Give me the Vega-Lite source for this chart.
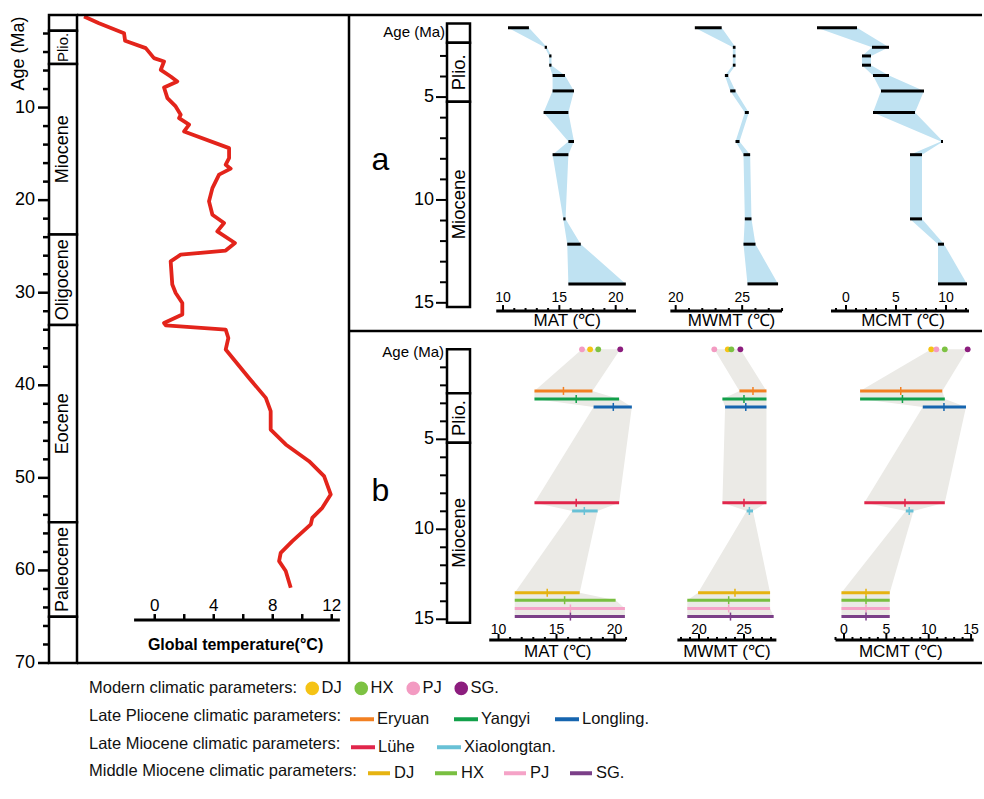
{
"$schema": "https://vega.github.io/schema/vega-lite/v6.json",
"background": "white",
"padding": {"left": 10, "top": 13, "right": 0, "bottom": 0},
"autosize": {"type": "pad"},
"spacing": 0,
"bounds": "flush",
"columns": 7,
"datasets": {
"temp": [
{"age":0.16,"t":-4.79},{"age":0.88,"t":-3.78},{"age":1.96,"t":-2.08},{"age":2.79,"t":-2.01},{"age":3.58,"t":-0.61},{"age":4.66,"t":-0.05},{"age":5.02,"t":0.63},{"age":5.92,"t":0.41},{"age":6.64,"t":1.08},{"age":7.18,"t":1.53},{"age":7.83,"t":0.63},{"age":8.98,"t":0.86},{"age":9.88,"t":1.42},{"age":10.77,"t":1.76},{"age":11.14,"t":1.65},{"age":11.85,"t":2.33},{"age":12.58,"t":1.99},{"age":14.38,"t":5.04},{"age":15.46,"t":5.04},{"age":16.17,"t":4.81},{"age":16.6,"t":5.15},{"age":17.25,"t":4.36},{"age":18.7,"t":3.91},{"age":20.13,"t":3.68},{"age":21.57,"t":3.91},{"age":22.47,"t":4.7},{"age":23.37,"t":4.24},{"age":24.63,"t":5.44},{"age":25.45,"t":4.81},{"age":25.89,"t":1.76},{"age":26.61,"t":1.08},{"age":29.12,"t":1.19},{"age":30.03,"t":1.42},{"age":31.11,"t":1.87},{"age":32.36,"t":1.87},{"age":33.27,"t":0.63},{"age":33.52,"t":0.75},{"age":33.98,"t":4.81},{"age":34.89,"t":4.99},{"age":36.14,"t":4.81},{"age":39.21,"t":6.39},{"age":41.36,"t":7.53},{"age":42.8,"t":7.86},{"age":44.78,"t":7.86},{"age":46.39,"t":8.88},{"age":48.2,"t":10.46},{"age":49.82,"t":11.48},{"age":51.79,"t":11.93},{"age":53.24,"t":11.36},{"age":54.32,"t":10.68},{"age":55.03,"t":10.58},{"age":56.83,"t":9.33},{"age":58.1,"t":8.54},{"age":58.99,"t":8.43},{"age":60.07,"t":8.88},{"age":61.87,"t":9.22}
],
"epochs": [
{"p":"L","name":"","top":0,"bot":1.7},{"p":"L","name":"Plio.","top":1.7,"bot":5.3},{"p":"L","name":"Miocene","top":5.3,"bot":23.7},{"p":"L","name":"Oligocene","top":23.7,"bot":33.5},{"p":"L","name":"Eocene","top":33.5,"bot":54.8},{"p":"L","name":"Paleocene","top":54.8,"bot":65},{"p":"L","name":"","top":65,"bot":70},
{"p":"a","name":"","top":1.42,"bot":2.36},{"p":"a","name":"Plio.","top":2.36,"bot":5.23},{"p":"a","name":"Miocene","top":5.23,"bot":15.2},
{"p":"b","name":"","top":0,"bot":2.44},{"p":"b","name":"Plio.","top":2.44,"bot":5.19},{"p":"b","name":"Miocene","top":5.19,"bot":15.2}
],
"pa": [
{"v":"MAT","age":1.63,"lo":10.44,"hi":12.3},{"v":"MAT","age":2.58,"lo":13.7,"hi":13.9},{"v":"MAT","age":3.0,"lo":14.1,"hi":14.3},{"v":"MAT","age":3.45,"lo":14.1,"hi":14.3},{"v":"MAT","age":3.95,"lo":14.4,"hi":15.5},{"v":"MAT","age":4.7,"lo":14.4,"hi":16.3},{"v":"MAT","age":5.75,"lo":13.6,"hi":15.8},{"v":"MAT","age":7.16,"lo":15.8,"hi":16.3},{"v":"MAT","age":7.8,"lo":14.4,"hi":15.8},{"v":"MAT","age":10.92,"lo":15.35,"hi":15.55},{"v":"MAT","age":12.15,"lo":15.7,"hi":16.9},{"v":"MAT","age":14.08,"lo":15.8,"hi":20.9},
{"v":"MWMT","age":1.63,"lo":21.44,"hi":23.46},{"v":"MWMT","age":2.58,"lo":24.3,"hi":24.5},{"v":"MWMT","age":3.0,"lo":24.3,"hi":24.5},{"v":"MWMT","age":3.45,"lo":24.3,"hi":24.5},{"v":"MWMT","age":3.95,"lo":23.7,"hi":23.95},{"v":"MWMT","age":4.7,"lo":24.1,"hi":24.5},{"v":"MWMT","age":5.75,"lo":25.2,"hi":25.5},{"v":"MWMT","age":7.16,"lo":24.5,"hi":24.8},{"v":"MWMT","age":7.8,"lo":25.1,"hi":25.6},{"v":"MWMT","age":10.92,"lo":25.2,"hi":25.7},{"v":"MWMT","age":12.15,"lo":25.1,"hi":26.0},{"v":"MWMT","age":14.08,"lo":25.4,"hi":27.7},
{"v":"MCMT","age":1.63,"lo":-2.9,"hi":1.1},{"v":"MCMT","age":2.58,"lo":2.6,"hi":4.3},{"v":"MCMT","age":3.0,"lo":1.6,"hi":2.5},{"v":"MCMT","age":3.45,"lo":1.6,"hi":2.5},{"v":"MCMT","age":3.95,"lo":2.7,"hi":4.3},{"v":"MCMT","age":4.7,"lo":3.5,"hi":7.8},{"v":"MCMT","age":5.75,"lo":2.7,"hi":6.9},{"v":"MCMT","age":7.16,"lo":9.5,"hi":9.7},{"v":"MCMT","age":7.8,"lo":6.4,"hi":7.6},{"v":"MCMT","age":10.92,"lo":6.4,"hi":7.6},{"v":"MCMT","age":12.15,"lo":9.2,"hi":9.8},{"v":"MCMT","age":14.08,"lo":9.2,"hi":12.1}
],
"pb": [
{"v":"MAT","g":"M","s":"PJ","age":0,"lo":17.2,"hi":17.2,"mean":17.2},{"v":"MAT","g":"M","s":"DJ","age":0,"lo":17.9,"hi":17.9,"mean":17.9},{"v":"MAT","g":"M","s":"HX","age":0,"lo":18.6,"hi":18.6,"mean":18.6},{"v":"MAT","g":"M","s":"SG","age":0,"lo":20.5,"hi":20.5,"mean":20.5},
{"v":"MAT","g":"LP","s":"Eryuan","age":2.31,"lo":13.1,"hi":18.1,"mean":15.6},{"v":"MAT","g":"LP","s":"Yangyi","age":2.76,"lo":13.1,"hi":20.4,"mean":16.7},{"v":"MAT","g":"LP","s":"Longling","age":3.2,"lo":18.2,"hi":21.5,"mean":19.9},
{"v":"MAT","g":"LM","s":"Lühe","age":8.52,"lo":13.1,"hi":20.4,"mean":16.7},{"v":"MAT","g":"LM","s":"Xiaolongtan","age":8.98,"lo":16.35,"hi":18.55,"mean":17.4},
{"v":"MAT","g":"MM","s":"DJ","age":13.52,"lo":11.4,"hi":17.0,"mean":14.2},{"v":"MAT","g":"MM","s":"HX","age":13.94,"lo":11.4,"hi":20.1,"mean":15.7},{"v":"MAT","g":"MM","s":"PJ","age":14.4,"lo":11.4,"hi":20.9,"mean":16.2},{"v":"MAT","g":"MM","s":"SG","age":14.85,"lo":11.4,"hi":20.9,"mean":16.2},
{"v":"MWMT","g":"M","s":"PJ","age":0,"lo":21.7,"hi":21.7,"mean":21.7},{"v":"MWMT","g":"M","s":"DJ","age":0,"lo":23.2,"hi":23.2,"mean":23.2},{"v":"MWMT","g":"M","s":"HX","age":0,"lo":23.6,"hi":23.6,"mean":23.6},{"v":"MWMT","g":"M","s":"SG","age":0,"lo":24.6,"hi":24.6,"mean":24.6},
{"v":"MWMT","g":"LP","s":"Eryuan","age":2.31,"lo":24.5,"hi":27.5,"mean":26.0},{"v":"MWMT","g":"LP","s":"Yangyi","age":2.76,"lo":22.6,"hi":27.5,"mean":25.0},{"v":"MWMT","g":"LP","s":"Longling","age":3.2,"lo":22.9,"hi":27.5,"mean":25.2},
{"v":"MWMT","g":"LM","s":"Lühe","age":8.52,"lo":22.6,"hi":27.5,"mean":25.0},{"v":"MWMT","g":"LM","s":"Xiaolongtan","age":8.98,"lo":25.3,"hi":26.0,"mean":25.6},
{"v":"MWMT","g":"MM","s":"DJ","age":13.52,"lo":19.9,"hi":27.9,"mean":24.0},{"v":"MWMT","g":"MM","s":"HX","age":13.94,"lo":18.7,"hi":27.9,"mean":23.3},{"v":"MWMT","g":"MM","s":"PJ","age":14.4,"lo":18.7,"hi":27.9,"mean":23.3},{"v":"MWMT","g":"MM","s":"SG","age":14.85,"lo":18.7,"hi":28.3,"mean":23.5},
{"v":"MCMT","g":"M","s":"DJ","age":0,"lo":10.3,"hi":10.3,"mean":10.3},{"v":"MCMT","g":"M","s":"PJ","age":0,"lo":10.9,"hi":10.9,"mean":10.9},{"v":"MCMT","g":"M","s":"HX","age":0,"lo":11.9,"hi":11.9,"mean":11.9},{"v":"MCMT","g":"M","s":"SG","age":0,"lo":14.6,"hi":14.6,"mean":14.6},
{"v":"MCMT","g":"LP","s":"Eryuan","age":2.31,"lo":1.9,"hi":11.6,"mean":6.7},{"v":"MCMT","g":"LP","s":"Yangyi","age":2.76,"lo":1.9,"hi":11.9,"mean":6.9},{"v":"MCMT","g":"LP","s":"Longling","age":3.2,"lo":9.3,"hi":14.4,"mean":11.8},
{"v":"MCMT","g":"LM","s":"Lühe","age":8.52,"lo":2.4,"hi":11.9,"mean":7.2},{"v":"MCMT","g":"LM","s":"Xiaolongtan","age":8.98,"lo":7.3,"hi":8.2,"mean":7.7},
{"v":"MCMT","g":"MM","s":"DJ","age":13.52,"lo":-0.3,"hi":5.4,"mean":2.6},{"v":"MCMT","g":"MM","s":"HX","age":13.94,"lo":-0.3,"hi":5.4,"mean":2.6},{"v":"MCMT","g":"MM","s":"PJ","age":14.4,"lo":-0.3,"hi":5.4,"mean":2.6},{"v":"MCMT","g":"MM","s":"SG","age":14.85,"lo":-0.3,"hi":5.4,"mean":2.6}
],
"ticks": [
{"p":"a","v":"MAT","t":10,"m":1},{"p":"a","v":"MAT","t":11,"m":0},{"p":"a","v":"MAT","t":12,"m":0},{"p":"a","v":"MAT","t":13,"m":0},{"p":"a","v":"MAT","t":14,"m":0},{"p":"a","v":"MAT","t":15,"m":1},{"p":"a","v":"MAT","t":16,"m":0},{"p":"a","v":"MAT","t":17,"m":0},{"p":"a","v":"MAT","t":18,"m":0},{"p":"a","v":"MAT","t":19,"m":0},{"p":"a","v":"MAT","t":20,"m":1},{"p":"a","v":"MAT","t":21,"m":0},
{"p":"a","v":"MWMT","t":20,"m":1},{"p":"a","v":"MWMT","t":21,"m":0},{"p":"a","v":"MWMT","t":22,"m":0},{"p":"a","v":"MWMT","t":23,"m":0},{"p":"a","v":"MWMT","t":24,"m":0},{"p":"a","v":"MWMT","t":25,"m":1},{"p":"a","v":"MWMT","t":26,"m":0},{"p":"a","v":"MWMT","t":27,"m":0},{"p":"a","v":"MWMT","t":28,"m":0},
{"p":"a","v":"MCMT","t":-1,"m":0},{"p":"a","v":"MCMT","t":0,"m":1},{"p":"a","v":"MCMT","t":1,"m":0},{"p":"a","v":"MCMT","t":2,"m":0},{"p":"a","v":"MCMT","t":3,"m":0},{"p":"a","v":"MCMT","t":4,"m":0},{"p":"a","v":"MCMT","t":5,"m":1},{"p":"a","v":"MCMT","t":6,"m":0},{"p":"a","v":"MCMT","t":7,"m":0},{"p":"a","v":"MCMT","t":8,"m":0},{"p":"a","v":"MCMT","t":9,"m":0},{"p":"a","v":"MCMT","t":10,"m":1},{"p":"a","v":"MCMT","t":11,"m":0},{"p":"a","v":"MCMT","t":12,"m":0},
{"p":"b","v":"MAT","t":10,"m":1},{"p":"b","v":"MAT","t":11,"m":0},{"p":"b","v":"MAT","t":12,"m":0},{"p":"b","v":"MAT","t":13,"m":0},{"p":"b","v":"MAT","t":14,"m":0},{"p":"b","v":"MAT","t":15,"m":1},{"p":"b","v":"MAT","t":16,"m":0},{"p":"b","v":"MAT","t":17,"m":0},{"p":"b","v":"MAT","t":18,"m":0},{"p":"b","v":"MAT","t":19,"m":0},{"p":"b","v":"MAT","t":20,"m":1},{"p":"b","v":"MAT","t":21,"m":0},
{"p":"b","v":"MWMT","t":18,"m":0},{"p":"b","v":"MWMT","t":19,"m":0},{"p":"b","v":"MWMT","t":20,"m":1},{"p":"b","v":"MWMT","t":21,"m":0},{"p":"b","v":"MWMT","t":22,"m":0},{"p":"b","v":"MWMT","t":23,"m":0},{"p":"b","v":"MWMT","t":24,"m":0},{"p":"b","v":"MWMT","t":25,"m":1},{"p":"b","v":"MWMT","t":26,"m":0},{"p":"b","v":"MWMT","t":27,"m":0},{"p":"b","v":"MWMT","t":28,"m":0},
{"p":"b","v":"MCMT","t":-1,"m":0},{"p":"b","v":"MCMT","t":0,"m":1},{"p":"b","v":"MCMT","t":1,"m":0},{"p":"b","v":"MCMT","t":2,"m":0},{"p":"b","v":"MCMT","t":3,"m":0},{"p":"b","v":"MCMT","t":4,"m":0},{"p":"b","v":"MCMT","t":5,"m":1},{"p":"b","v":"MCMT","t":6,"m":0},{"p":"b","v":"MCMT","t":7,"m":0},{"p":"b","v":"MCMT","t":8,"m":0},{"p":"b","v":"MCMT","t":9,"m":0},{"p":"b","v":"MCMT","t":10,"m":1},{"p":"b","v":"MCMT","t":11,"m":0},{"p":"b","v":"MCMT","t":12,"m":0},{"p":"b","v":"MCMT","t":13,"m":0},{"p":"b","v":"MCMT","t":14,"m":0},{"p":"b","v":"MCMT","t":15,"m":1},
{"p":"L","v":"T","t":0,"m":1},{"p":"L","v":"T","t":2,"m":0},{"p":"L","v":"T","t":4,"m":1},{"p":"L","v":"T","t":6,"m":0},{"p":"L","v":"T","t":8,"m":1},{"p":"L","v":"T","t":10,"m":0},{"p":"L","v":"T","t":12,"m":1},
{"p":"LY","t":2,"m":0},{"p":"LY","t":4,"m":0},{"p":"LY","t":6,"m":0},{"p":"LY","t":8,"m":0},{"p":"LY","t":10,"m":1},{"p":"LY","t":12,"m":0},{"p":"LY","t":14,"m":0},{"p":"LY","t":16,"m":0},{"p":"LY","t":18,"m":0},{"p":"LY","t":20,"m":1},{"p":"LY","t":22,"m":0},{"p":"LY","t":24,"m":0},{"p":"LY","t":26,"m":0},{"p":"LY","t":28,"m":0},{"p":"LY","t":30,"m":1},{"p":"LY","t":32,"m":0},{"p":"LY","t":34,"m":0},{"p":"LY","t":36,"m":0},{"p":"LY","t":38,"m":0},{"p":"LY","t":40,"m":1},{"p":"LY","t":42,"m":0},{"p":"LY","t":44,"m":0},{"p":"LY","t":46,"m":0},{"p":"LY","t":48,"m":0},{"p":"LY","t":50,"m":1},{"p":"LY","t":52,"m":0},{"p":"LY","t":54,"m":0},{"p":"LY","t":56,"m":0},{"p":"LY","t":58,"m":0},{"p":"LY","t":60,"m":1},{"p":"LY","t":62,"m":0},{"p":"LY","t":64,"m":0},{"p":"LY","t":66,"m":0},{"p":"LY","t":68,"m":0},{"p":"LY","t":70,"m":1},
{"p":"AY","t":3,"m":0},{"p":"AY","t":4,"m":0},{"p":"AY","t":5,"m":1},{"p":"AY","t":6,"m":0},{"p":"AY","t":7,"m":0},{"p":"AY","t":8,"m":0},{"p":"AY","t":9,"m":0},{"p":"AY","t":10,"m":1},{"p":"AY","t":11,"m":0},{"p":"AY","t":12,"m":0},{"p":"AY","t":13,"m":0},{"p":"AY","t":14,"m":0},{"p":"AY","t":15,"m":1},
{"p":"BY","t":1,"m":0},{"p":"BY","t":2,"m":0},{"p":"BY","t":3,"m":0},{"p":"BY","t":4,"m":0},{"p":"BY","t":5,"m":1},{"p":"BY","t":6,"m":0},{"p":"BY","t":7,"m":0},{"p":"BY","t":8,"m":0},{"p":"BY","t":9,"m":0},{"p":"BY","t":10,"m":1},{"p":"BY","t":11,"m":0},{"p":"BY","t":12,"m":0},{"p":"BY","t":13,"m":0},{"p":"BY","t":14,"m":0},{"p":"BY","t":15,"m":1}
]
},
"concat": [
{
 "width": 28, "height": 316,
 "layer": [
  {"data": {"name": "epochs"}, "transform": [{"filter": "datum.p === 'L'"}],
   "mark": {"type": "rect", "fill": "white", "stroke": "black", "strokeWidth": 2.5},
   "encoding": {
    "x": {"datum": 0, "type": "quantitative", "scale": {"domain": [0, 1], "nice": false, "zero": false}, "axis": null},
    "x2": {"datum": 1},
    "y": {"field": "top", "type": "quantitative", "scale": {"domain": [0, 34.136], "reverse": true, "nice": false, "zero": false}, "axis": null},
    "y2": {"field": "bot"}}},
  {"data": {"name": "epochs"}, "transform": [{"filter": "datum.p === 'L'"}, {"calculate": "(datum.top + datum.bot) / 2", "as": "mid"}],
   "mark": {"type": "text", "angle": 270, "align": "center", "baseline": "middle", "color": "black"},
   "encoding": {
    "x": {"datum": 0.5, "type": "quantitative", "axis": null},
    "y": {"field": "mid", "type": "quantitative", "axis": null},
    "text": {"field": "name"},
    "size": {"condition": {"test": "datum.bot - datum.top < 4", "value": 15}, "value": 18}}},
  {"data": {"name": "ticks"}, "transform": [{"filter": "datum.p === 'LY' && datum.m === 0"}],
   "mark": {"type": "tick", "orient": "horizontal", "size": 6, "thickness": 2.5, "xOffset": -3, "color": "black"},
   "encoding": {"x": {"datum": 0, "type": "quantitative", "axis": null}, "y": {"field": "t", "type": "quantitative", "axis": null}}},
  {"data": {"name": "ticks"}, "transform": [{"filter": "datum.p === 'LY' && datum.m === 1"}],
   "mark": {"type": "tick", "orient": "horizontal", "size": 11, "thickness": 2.5, "xOffset": -5.5, "color": "black"},
   "encoding": {"x": {"datum": 0, "type": "quantitative", "axis": null}, "y": {"field": "t", "type": "quantitative", "axis": null}}},
  {"data": {"name": "ticks"}, "transform": [{"filter": "datum.p === 'LY' && datum.m === 1"}],
   "mark": {"type": "text", "align": "right", "baseline": "middle", "dx": -14, "fontSize": 18, "color": "black"},
   "encoding": {"x": {"datum": 0, "type": "quantitative", "axis": null}, "y": {"field": "t", "type": "quantitative", "axis": null}, "text": {"field": "t", "type": "quantitative"}}},
  {"data": {"values": [{}]}, "mark": {"type": "text", "text": "Age (Ma)", "angle": 270, "align": "center", "baseline": "middle", "fontSize": 18, "color": "black"},
   "encoding": {"x": {"datum": -1.07, "type": "quantitative", "axis": null}, "y": {"datum": 4.16, "type": "quantitative", "axis": null}}}
 ]
},
{
 "width": 272, "height": 316,
 "layer": [
  {"data": {"name": "temp"}, "mark": {"type": "line", "color": "#E3241B", "strokeWidth": 3.8, "strokeJoin": "round"},
   "encoding": {
    "x": {"field": "t", "type": "quantitative", "scale": {"domain": [-5.27, 13.17], "nice": false, "zero": false}, "axis": null},
    "y": {"field": "age", "type": "quantitative", "scale": {"domain": [0, 34.136], "reverse": true, "nice": false, "zero": false}, "axis": null},
    "order": {"field": "age", "type": "quantitative"}}},
  {"data": {"values": [{}]}, "mark": {"type": "rule", "strokeWidth": 3, "color": "black"},
   "encoding": {"x": {"datum": -1.4, "type": "quantitative", "axis": null}, "x2": {"datum": 12.55}, "y": {"datum": 65.36, "type": "quantitative", "axis": null}}},
  {"data": {"name": "ticks"}, "transform": [{"filter": "datum.p === 'L'"}],
   "mark": {"type": "tick", "orient": "vertical", "size": 6, "thickness": 2.5, "yOffset": -3, "color": "black"},
   "encoding": {"x": {"field": "t", "type": "quantitative", "axis": null}, "y": {"datum": 65.36, "type": "quantitative", "axis": null}}},
  {"data": {"name": "ticks"}, "transform": [{"filter": "datum.p === 'L' && datum.m === 1"}],
   "mark": {"type": "text", "fontSize": 17, "baseline": "alphabetic", "align": "center", "dy": -9, "color": "black"},
   "encoding": {"x": {"field": "t", "type": "quantitative", "axis": null}, "y": {"datum": 65.36, "type": "quantitative", "axis": null}, "text": {"field": "t", "type": "quantitative"}}},
  {"data": {"values": [{}]}, "mark": {"type": "text", "text": "Global temperature(°C)", "fontSize": 16, "fontWeight": "bold", "baseline": "middle", "align": "center", "dy": 24.5, "color": "black"},
   "encoding": {"x": {"datum": 5.48, "type": "quantitative", "axis": null}, "y": {"datum": 65.36, "type": "quantitative", "axis": null}}},
  {"data": {"values": [{}]}, "mark": {"type": "rule", "strokeWidth": 2.5, "color": "black"}, "encoding": {"y": {"datum": 0, "type": "quantitative", "axis": null}}},
  {"data": {"values": [{}]}, "mark": {"type": "rule", "strokeWidth": 2.5, "color": "black"}, "encoding": {"y": {"datum": 70, "type": "quantitative", "axis": null}}},
  {"data": {"values": [{}]}, "mark": {"type": "rule", "strokeWidth": 2.5, "color": "black"}, "encoding": {"x": {"datum": 13.17, "type": "quantitative", "axis": null}, "y": {"datum": 0, "type": "quantitative", "axis": null}, "y2": {"datum": 70}}}
 ]
},
{"width": 98, "height": 316, "layer": [
  {"data": {"values": [{}]}, "mark": {"type": "rule", "strokeWidth": 2.5, "color": "black"}, "encoding": {"y": {"datum": 1.01, "type": "quantitative", "scale": {"domain": [1.01, 16.37], "reverse": true, "nice": false, "zero": false}, "axis": null}}},
  {"data": {"values": [{}]}, "mark": {"type": "rule", "strokeWidth": 2.5, "color": "black"}, "encoding": {"y": {"datum": 16.37, "type": "quantitative", "axis": null}}},
  {"data": {"values": [{}]}, "mark": {"type": "text", "text": "a", "fontSize": 32, "align": "center", "baseline": "alphabetic", "color": "black"},
   "encoding": {"x": {"datum": 0.32, "type": "quantitative", "scale": {"domain": [0, 1], "nice": false, "zero": false}, "axis": null}, "y": {"datum": 8.55, "type": "quantitative", "axis": null}}}
]},
{"width": 23, "height": 316, "layer": [
  {"data": {"name": "epochs"}, "transform": [{"filter": "datum.p === 'a'"}],
   "mark": {"type": "rect", "fill": "white", "stroke": "black", "strokeWidth": 2.5},
   "encoding": {
    "x": {"datum": 0, "type": "quantitative", "scale": {"domain": [0, 1], "nice": false, "zero": false}, "axis": null},
    "x2": {"datum": 1},
    "y": {"field": "top", "type": "quantitative", "scale": {"domain": [1.01, 16.37], "reverse": true, "nice": false, "zero": false}, "axis": null},
    "y2": {"field": "bot"}}},
  {"data": {"name": "epochs"}, "transform": [{"filter": "datum.p === 'a'"}, {"calculate": "(datum.top + datum.bot) / 2", "as": "mid"}],
   "mark": {"type": "text", "angle": 270, "align": "center", "baseline": "middle", "fontSize": 18.5, "color": "black"},
   "encoding": {"x": {"datum": 0.5, "type": "quantitative", "axis": null}, "y": {"field": "mid", "type": "quantitative", "axis": null}, "text": {"field": "name"}}},
  {"data": {"name": "ticks"}, "transform": [{"filter": "datum.p === 'AY' && datum.m === 0"}],
   "mark": {"type": "tick", "orient": "horizontal", "size": 7, "thickness": 2, "xOffset": -3.5, "color": "black"},
   "encoding": {"x": {"datum": 0, "type": "quantitative", "axis": null}, "y": {"field": "t", "type": "quantitative", "axis": null}}},
  {"data": {"name": "ticks"}, "transform": [{"filter": "datum.p === 'AY' && datum.m === 1"}],
   "mark": {"type": "tick", "orient": "horizontal", "size": 11, "thickness": 2, "xOffset": -5.5, "color": "black"},
   "encoding": {"x": {"datum": 0, "type": "quantitative", "axis": null}, "y": {"field": "t", "type": "quantitative", "axis": null}}},
  {"data": {"name": "ticks"}, "transform": [{"filter": "datum.p === 'AY' && datum.m === 1"}],
   "mark": {"type": "text", "align": "right", "baseline": "middle", "dx": -13, "fontSize": 18, "color": "black"},
   "encoding": {"x": {"datum": 0, "type": "quantitative", "axis": null}, "y": {"field": "t", "type": "quantitative", "axis": null}, "text": {"field": "t", "type": "quantitative"}}},
  {"data": {"values": [{}]}, "mark": {"type": "text", "text": "Age (Ma)", "align": "right", "baseline": "middle", "dx": -2, "fontSize": 15, "color": "black"},
   "encoding": {"x": {"datum": 0, "type": "quantitative", "axis": null}, "y": {"datum": 1.84, "type": "quantitative", "axis": null}}},
  {"data": {"values": [{}]}, "mark": {"type": "rule", "strokeWidth": 2.5, "color": "black"}, "encoding": {"y": {"datum": 1.01, "type": "quantitative", "axis": null}}},
  {"data": {"values": [{}]}, "mark": {"type": "rule", "strokeWidth": 2.5, "color": "black"}, "encoding": {"y": {"datum": 16.37, "type": "quantitative", "axis": null}}}
]},
{"width": 184, "height": 316, "layer": [
  {"data": {"name": "pa"}, "transform": [{"filter": "datum.v === 'MAT'"}], "mark": {"type": "area", "orient": "horizontal", "color": "#BFE2F2"},
   "encoding": {"y": {"field": "age", "type": "quantitative", "scale": {"domain": [1.01, 16.37], "reverse": true, "nice": false, "zero": false}, "axis": null},
    "x": {"field": "lo", "type": "quantitative", "scale": {"domain": [7.07, 23.4], "nice": false, "zero": false}, "axis": null}, "x2": {"field": "hi"}}},
  {"data": {"name": "pa"}, "transform": [{"filter": "datum.v === 'MAT'"}], "mark": {"type": "rule", "strokeWidth": 3, "color": "black"},
   "encoding": {"y": {"field": "age", "type": "quantitative", "axis": null}, "x": {"field": "lo", "type": "quantitative", "axis": null}, "x2": {"field": "hi"}}},
  {"data": {"values": [{}]}, "mark": {"type": "rule", "strokeWidth": 3, "color": "black"},
   "encoding": {"x": {"datum": 9.4, "type": "quantitative", "axis": null}, "x2": {"datum": 21.8}, "y": {"datum": 15.4, "type": "quantitative", "axis": null}}},
  {"data": {"name": "ticks"}, "transform": [{"filter": "datum.p === 'a' && datum.v === 'MAT' && datum.m === 0"}],
   "mark": {"type": "tick", "orient": "vertical", "size": 3, "thickness": 2, "yOffset": -1.5, "color": "black"},
   "encoding": {"x": {"field": "t", "type": "quantitative", "axis": null}, "y": {"datum": 15.4, "type": "quantitative", "axis": null}}},
  {"data": {"name": "ticks"}, "transform": [{"filter": "datum.p === 'a' && datum.v === 'MAT' && datum.m === 1"}],
   "mark": {"type": "tick", "orient": "vertical", "size": 6, "thickness": 2, "yOffset": -3, "color": "black"},
   "encoding": {"x": {"field": "t", "type": "quantitative", "axis": null}, "y": {"datum": 15.4, "type": "quantitative", "axis": null}}},
  {"data": {"name": "ticks"}, "transform": [{"filter": "datum.p === 'a' && datum.v === 'MAT' && datum.m === 1"}],
   "mark": {"type": "text", "fontSize": 14, "baseline": "alphabetic", "align": "center", "dy": -9, "color": "black"},
   "encoding": {"x": {"field": "t", "type": "quantitative", "axis": null}, "y": {"datum": 15.4, "type": "quantitative", "axis": null}, "text": {"field": "t", "type": "quantitative"}}},
  {"data": {"values": [{}]}, "mark": {"type": "text", "text": "MAT (℃)", "fontSize": 17, "baseline": "middle", "align": "center", "dy": 10, "color": "black"},
   "encoding": {"x": {"datum": 15.7, "type": "quantitative", "axis": null}, "y": {"datum": 15.4, "type": "quantitative", "axis": null}}},
  {"data": {"values": [{}]}, "mark": {"type": "rule", "strokeWidth": 2.5, "color": "black"}, "encoding": {"y": {"datum": 1.01, "type": "quantitative", "axis": null}}},
  {"data": {"values": [{}]}, "mark": {"type": "rule", "strokeWidth": 2.5, "color": "black"}, "encoding": {"y": {"datum": 16.37, "type": "quantitative", "axis": null}}}
]},
{"width": 150, "height": 316, "layer": [
  {"data": {"name": "pa"}, "transform": [{"filter": "datum.v === 'MWMT'"}], "mark": {"type": "area", "orient": "horizontal", "color": "#BFE2F2"},
   "encoding": {"y": {"field": "age", "type": "quantitative", "scale": {"domain": [1.01, 16.37], "reverse": true, "nice": false, "zero": false}, "axis": null},
    "x": {"field": "lo", "type": "quantitative", "scale": {"domain": [18.37, 29.65], "nice": false, "zero": false}, "axis": null}, "x2": {"field": "hi"}}},
  {"data": {"name": "pa"}, "transform": [{"filter": "datum.v === 'MWMT'"}], "mark": {"type": "rule", "strokeWidth": 3, "color": "black"},
   "encoding": {"y": {"field": "age", "type": "quantitative", "axis": null}, "x": {"field": "lo", "type": "quantitative", "axis": null}, "x2": {"field": "hi"}}},
  {"data": {"values": [{}]}, "mark": {"type": "rule", "strokeWidth": 3, "color": "black"},
   "encoding": {"x": {"datum": 19.6, "type": "quantitative", "axis": null}, "x2": {"datum": 28.0}, "y": {"datum": 15.4, "type": "quantitative", "axis": null}}},
  {"data": {"name": "ticks"}, "transform": [{"filter": "datum.p === 'a' && datum.v === 'MWMT' && datum.m === 0"}],
   "mark": {"type": "tick", "orient": "vertical", "size": 3, "thickness": 2, "yOffset": -1.5, "color": "black"},
   "encoding": {"x": {"field": "t", "type": "quantitative", "axis": null}, "y": {"datum": 15.4, "type": "quantitative", "axis": null}}},
  {"data": {"name": "ticks"}, "transform": [{"filter": "datum.p === 'a' && datum.v === 'MWMT' && datum.m === 1"}],
   "mark": {"type": "tick", "orient": "vertical", "size": 6, "thickness": 2, "yOffset": -3, "color": "black"},
   "encoding": {"x": {"field": "t", "type": "quantitative", "axis": null}, "y": {"datum": 15.4, "type": "quantitative", "axis": null}}},
  {"data": {"name": "ticks"}, "transform": [{"filter": "datum.p === 'a' && datum.v === 'MWMT' && datum.m === 1"}],
   "mark": {"type": "text", "fontSize": 14, "baseline": "alphabetic", "align": "center", "dy": -9, "color": "black"},
   "encoding": {"x": {"field": "t", "type": "quantitative", "axis": null}, "y": {"datum": 15.4, "type": "quantitative", "axis": null}, "text": {"field": "t", "type": "quantitative"}}},
  {"data": {"values": [{}]}, "mark": {"type": "text", "text": "MWMT (℃)", "fontSize": 17, "baseline": "middle", "align": "center", "dy": 10, "color": "black"},
   "encoding": {"x": {"datum": 24.2, "type": "quantitative", "axis": null}, "y": {"datum": 15.4, "type": "quantitative", "axis": null}}},
  {"data": {"values": [{}]}, "mark": {"type": "rule", "strokeWidth": 2.5, "color": "black"}, "encoding": {"y": {"datum": 1.01, "type": "quantitative", "axis": null}}},
  {"data": {"values": [{}]}, "mark": {"type": "rule", "strokeWidth": 2.5, "color": "black"}, "encoding": {"y": {"datum": 16.37, "type": "quantitative", "axis": null}}}
]},
{"width": 178, "height": 316, "layer": [
  {"data": {"name": "pa"}, "transform": [{"filter": "datum.v === 'MCMT'"}], "mark": {"type": "area", "orient": "horizontal", "color": "#BFE2F2"},
   "encoding": {"y": {"field": "age", "type": "quantitative", "scale": {"domain": [1.01, 16.37], "reverse": true, "nice": false, "zero": false}, "axis": null},
    "x": {"field": "lo", "type": "quantitative", "scale": {"domain": [-4.2, 13.6], "nice": false, "zero": false}, "axis": null}, "x2": {"field": "hi"}}},
  {"data": {"name": "pa"}, "transform": [{"filter": "datum.v === 'MCMT'"}], "mark": {"type": "rule", "strokeWidth": 3, "color": "black"},
   "encoding": {"y": {"field": "age", "type": "quantitative", "axis": null}, "x": {"field": "lo", "type": "quantitative", "axis": null}, "x2": {"field": "hi"}}},
  {"data": {"values": [{}]}, "mark": {"type": "rule", "strokeWidth": 3, "color": "black"},
   "encoding": {"x": {"datum": -1.5, "type": "quantitative", "axis": null}, "x2": {"datum": 12.3}, "y": {"datum": 15.4, "type": "quantitative", "axis": null}}},
  {"data": {"name": "ticks"}, "transform": [{"filter": "datum.p === 'a' && datum.v === 'MCMT' && datum.m === 0"}],
   "mark": {"type": "tick", "orient": "vertical", "size": 3, "thickness": 2, "yOffset": -1.5, "color": "black"},
   "encoding": {"x": {"field": "t", "type": "quantitative", "axis": null}, "y": {"datum": 15.4, "type": "quantitative", "axis": null}}},
  {"data": {"name": "ticks"}, "transform": [{"filter": "datum.p === 'a' && datum.v === 'MCMT' && datum.m === 1"}],
   "mark": {"type": "tick", "orient": "vertical", "size": 6, "thickness": 2, "yOffset": -3, "color": "black"},
   "encoding": {"x": {"field": "t", "type": "quantitative", "axis": null}, "y": {"datum": 15.4, "type": "quantitative", "axis": null}}},
  {"data": {"name": "ticks"}, "transform": [{"filter": "datum.p === 'a' && datum.v === 'MCMT' && datum.m === 1"}],
   "mark": {"type": "text", "fontSize": 14, "baseline": "alphabetic", "align": "center", "dy": -9, "color": "black"},
   "encoding": {"x": {"field": "t", "type": "quantitative", "axis": null}, "y": {"datum": 15.4, "type": "quantitative", "axis": null}, "text": {"field": "t", "type": "quantitative"}}},
  {"data": {"values": [{}]}, "mark": {"type": "text", "text": "MCMT (℃)", "fontSize": 17, "baseline": "middle", "align": "center", "dy": 10, "color": "black"},
   "encoding": {"x": {"datum": 5.7, "type": "quantitative", "axis": null}, "y": {"datum": 15.4, "type": "quantitative", "axis": null}}},
  {"data": {"values": [{}]}, "mark": {"type": "rule", "strokeWidth": 2.5, "color": "black"}, "encoding": {"y": {"datum": 1.01, "type": "quantitative", "axis": null}}},
  {"data": {"values": [{}]}, "mark": {"type": "rule", "strokeWidth": 2.5, "color": "black"}, "encoding": {"y": {"datum": 16.37, "type": "quantitative", "axis": null}}}
]},
{"width": 28, "height": 1, "data": {"values": [{}]}, "mark": {"type": "text", "text": ""}},
{"width": 272, "height": 1, "data": {"values": [{}]}, "mark": {"type": "text", "text": ""}},
{"width": 98, "height": 332, "layer": [
  {"data": {"values": [{}]}, "mark": {"type": "rule", "strokeWidth": 2.5, "color": "black"}, "encoding": {"y": {"datum": 17.43, "type": "quantitative", "scale": {"domain": [-1.02, 17.43], "reverse": true, "nice": false, "zero": false}, "axis": null}}},
  {"data": {"values": [{}]}, "mark": {"type": "text", "text": "b", "fontSize": 32, "align": "center", "baseline": "alphabetic", "color": "black"},
   "encoding": {"x": {"datum": 0.32, "type": "quantitative", "scale": {"domain": [0, 1], "nice": false, "zero": false}, "axis": null}, "y": {"datum": 8.43, "type": "quantitative", "axis": null}}}
]},
{"width": 23, "height": 332, "layer": [
  {"data": {"name": "epochs"}, "transform": [{"filter": "datum.p === 'b'"}],
   "mark": {"type": "rect", "fill": "white", "stroke": "black", "strokeWidth": 2.5},
   "encoding": {
    "x": {"datum": 0, "type": "quantitative", "scale": {"domain": [0, 1], "nice": false, "zero": false}, "axis": null},
    "x2": {"datum": 1},
    "y": {"field": "top", "type": "quantitative", "scale": {"domain": [-1.02, 17.43], "reverse": true, "nice": false, "zero": false}, "axis": null},
    "y2": {"field": "bot"}}},
  {"data": {"name": "epochs"}, "transform": [{"filter": "datum.p === 'b'"}, {"calculate": "(datum.top + datum.bot) / 2", "as": "mid"}],
   "mark": {"type": "text", "angle": 270, "align": "center", "baseline": "middle", "fontSize": 18.5, "color": "black"},
   "encoding": {"x": {"datum": 0.5, "type": "quantitative", "axis": null}, "y": {"field": "mid", "type": "quantitative", "axis": null}, "text": {"field": "name"}}},
  {"data": {"name": "ticks"}, "transform": [{"filter": "datum.p === 'BY' && datum.m === 0"}],
   "mark": {"type": "tick", "orient": "horizontal", "size": 7, "thickness": 2, "xOffset": -3.5, "color": "black"},
   "encoding": {"x": {"datum": 0, "type": "quantitative", "axis": null}, "y": {"field": "t", "type": "quantitative", "axis": null}}},
  {"data": {"name": "ticks"}, "transform": [{"filter": "datum.p === 'BY' && datum.m === 1"}],
   "mark": {"type": "tick", "orient": "horizontal", "size": 11, "thickness": 2, "xOffset": -5.5, "color": "black"},
   "encoding": {"x": {"datum": 0, "type": "quantitative", "axis": null}, "y": {"field": "t", "type": "quantitative", "axis": null}}},
  {"data": {"name": "ticks"}, "transform": [{"filter": "datum.p === 'BY' && datum.m === 1"}],
   "mark": {"type": "text", "align": "right", "baseline": "middle", "dx": -13, "fontSize": 18, "color": "black"},
   "encoding": {"x": {"datum": 0, "type": "quantitative", "axis": null}, "y": {"field": "t", "type": "quantitative", "axis": null}, "text": {"field": "t", "type": "quantitative"}}},
  {"data": {"values": [{}]}, "mark": {"type": "text", "text": "Age (Ma)", "align": "right", "baseline": "middle", "dx": -3, "fontSize": 15, "color": "black"},
   "encoding": {"x": {"datum": 0, "type": "quantitative", "axis": null}, "y": {"datum": 0.15, "type": "quantitative", "axis": null}}},
  {"data": {"values": [{}]}, "mark": {"type": "rule", "strokeWidth": 2.5, "color": "black"}, "encoding": {"y": {"datum": 17.43, "type": "quantitative", "axis": null}}}
]},
{"width": 184, "height": 332,
 "resolve": {"scale": {"color": "independent"}},
 "layer": [
  {"data": {"name": "pb"}, "transform": [{"filter": "datum.v === 'MAT'"}, {"aggregate": [{"op": "min", "field": "lo", "as": "lo"}, {"op": "max", "field": "hi", "as": "hi"}], "groupby": ["age"]}],
   "mark": {"type": "area", "orient": "horizontal", "color": "#EBEAE6"},
   "encoding": {"y": {"field": "age", "type": "quantitative", "scale": {"domain": [-1.02, 17.43], "reverse": true, "nice": false, "zero": false}, "axis": null},
    "x": {"field": "lo", "type": "quantitative", "scale": {"domain": [7.54, 23.41], "nice": false, "zero": false}, "axis": null}, "x2": {"field": "hi"}}},
  {"data": {"name": "pb"}, "transform": [{"filter": "datum.v === 'MAT' && datum.g === 'M'"}],
   "mark": {"type": "point", "filled": true, "size": 34, "opacity": 1},
   "encoding": {"y": {"field": "age", "type": "quantitative", "axis": null}, "x": {"field": "mean", "type": "quantitative", "axis": null},
    "color": {"field": "s", "type": "nominal", "scale": {"domain": ["DJ", "HX", "PJ", "SG"], "range": ["#F5C315", "#7DC243", "#F39BC2", "#8C1D7E"]},
     "legend": {"title": "Modern climatic parameters:", "orient": "none", "legendX": -381, "legendY": 349, "direction": "horizontal", "titleOrient": "left",
      "symbolType": "circle", "symbolSize": 185, "symbolStrokeWidth": 0, "symbolOpacity": 1, "labelOffset": 1, "columnPadding": 11, "titlePadding": 6,
      "labelExpr": "datum.label === 'SG' ? 'SG.' : datum.label"}}}},
  {"data": {"name": "pb"}, "transform": [{"filter": "datum.v === 'MAT' && datum.g === 'LP'"}],
   "layer": [
    {"mark": {"type": "rule", "strokeWidth": 3, "opacity": 1},
     "encoding": {"y": {"field": "age", "type": "quantitative", "axis": null}, "x": {"field": "lo", "type": "quantitative", "axis": null}, "x2": {"field": "hi"},
      "color": {"field": "s", "type": "nominal", "scale": {"domain": ["Eryuan", "Yangyi", "Longling"], "range": ["#F28022", "#12A04A", "#1665AF"]},
       "legend": {"title": "Late Pliocene climatic parameters:", "orient": "none", "legendX": -381, "legendY": 374, "direction": "horizontal", "titleOrient": "left",
        "symbolType": "stroke", "symbolSize": 576, "symbolStrokeWidth": 4, "symbolOpacity": 1, "labelOffset": 1, "columnPadding": 16, "titlePadding": 6,
        "labelExpr": "datum.label === 'Longling' ? 'Longling.' : datum.label"}}}},
    {"mark": {"type": "tick", "orient": "vertical", "size": 8, "thickness": 1.5, "opacity": 1},
     "encoding": {"y": {"field": "age", "type": "quantitative", "axis": null}, "x": {"field": "mean", "type": "quantitative", "axis": null},
      "color": {"field": "s", "type": "nominal"}}}
   ]},
  {"data": {"name": "pb"}, "transform": [{"filter": "datum.v === 'MAT' && datum.g === 'LM'"}],
   "layer": [
    {"mark": {"type": "rule", "strokeWidth": 3, "opacity": 1},
     "encoding": {"y": {"field": "age", "type": "quantitative", "axis": null}, "x": {"field": "lo", "type": "quantitative", "axis": null}, "x2": {"field": "hi"},
      "color": {"field": "s", "type": "nominal", "scale": {"domain": ["Lühe", "Xiaolongtan"], "range": ["#E1264B", "#68C1D6"]},
       "legend": {"title": "Late Miocene climatic parameters:", "orient": "none", "legendX": -381, "legendY": 402, "direction": "horizontal", "titleOrient": "left",
        "symbolType": "stroke", "symbolSize": 576, "symbolStrokeWidth": 4, "symbolOpacity": 1, "labelOffset": 1, "columnPadding": 14, "titlePadding": 8,
        "labelExpr": "datum.label === 'Xiaolongtan' ? 'Xiaolongtan.' : datum.label"}}}},
    {"mark": {"type": "tick", "orient": "vertical", "size": 8, "thickness": 1.5, "opacity": 1},
     "encoding": {"y": {"field": "age", "type": "quantitative", "axis": null}, "x": {"field": "mean", "type": "quantitative", "axis": null},
      "color": {"field": "s", "type": "nominal"}}}
   ]},
  {"data": {"name": "pb"}, "transform": [{"filter": "datum.v === 'MAT' && datum.g === 'MM'"}],
   "layer": [
    {"mark": {"type": "rule", "strokeWidth": 3, "opacity": 1},
     "encoding": {"y": {"field": "age", "type": "quantitative", "axis": null}, "x": {"field": "lo", "type": "quantitative", "axis": null}, "x2": {"field": "hi"},
      "color": {"field": "s", "type": "nominal", "scale": {"domain": ["DJ", "HX", "PJ", "SG"], "range": ["#E6B311", "#79BF41", "#F5A3C7", "#7B3F88"]},
       "legend": {"title": "Middle Miocene climatic parameters:", "orient": "none", "legendX": -381, "legendY": 429, "direction": "horizontal", "titleOrient": "left",
        "symbolType": "stroke", "symbolSize": 484, "symbolStrokeWidth": 4, "symbolOpacity": 1, "labelOffset": 2, "columnPadding": 12, "titlePadding": 9,
        "labelExpr": "datum.label === 'SG' ? 'SG.' : datum.label"}}}},
    {"mark": {"type": "tick", "orient": "vertical", "size": 8, "thickness": 1.5, "opacity": 1},
     "encoding": {"y": {"field": "age", "type": "quantitative", "axis": null}, "x": {"field": "mean", "type": "quantitative", "axis": null},
      "color": {"field": "s", "type": "nominal"}}}
   ]},
  {"data": {"values": [{}]}, "mark": {"type": "rule", "strokeWidth": 3, "color": "black"},
   "encoding": {"x": {"datum": 9.2, "type": "quantitative", "axis": null}, "x2": {"datum": 21.0}, "y": {"datum": 16.15, "type": "quantitative", "axis": null}}},
  {"data": {"name": "ticks"}, "transform": [{"filter": "datum.p === 'b' && datum.v === 'MAT' && datum.m === 0"}],
   "mark": {"type": "tick", "orient": "vertical", "size": 3, "thickness": 2, "yOffset": -1.5, "color": "black"},
   "encoding": {"x": {"field": "t", "type": "quantitative", "axis": null}, "y": {"datum": 16.15, "type": "quantitative", "axis": null}}},
  {"data": {"name": "ticks"}, "transform": [{"filter": "datum.p === 'b' && datum.v === 'MAT' && datum.m === 1"}],
   "mark": {"type": "tick", "orient": "vertical", "size": 6, "thickness": 2, "yOffset": -3, "color": "black"},
   "encoding": {"x": {"field": "t", "type": "quantitative", "axis": null}, "y": {"datum": 16.15, "type": "quantitative", "axis": null}}},
  {"data": {"name": "ticks"}, "transform": [{"filter": "datum.p === 'b' && datum.v === 'MAT' && datum.m === 1"}],
   "mark": {"type": "text", "fontSize": 14, "baseline": "alphabetic", "align": "center", "dy": -6, "color": "black"},
   "encoding": {"x": {"field": "t", "type": "quantitative", "axis": null}, "y": {"datum": 16.15, "type": "quantitative", "axis": null}, "text": {"field": "t", "type": "quantitative"}}},
  {"data": {"values": [{}]}, "mark": {"type": "text", "text": "MAT (℃)", "fontSize": 17, "baseline": "middle", "align": "center", "dy": 12.5, "color": "black"},
   "encoding": {"x": {"datum": 15.1, "type": "quantitative", "axis": null}, "y": {"datum": 16.15, "type": "quantitative", "axis": null}}},
  {"data": {"values": [{}]}, "mark": {"type": "rule", "strokeWidth": 2.5, "color": "black"}, "encoding": {"y": {"datum": 17.43, "type": "quantitative", "axis": null}}}
]},
{"width": 150, "height": 332,
 "resolve": {"scale": {"color": "independent"}},
 "layer": [
  {"data": {"name": "pb"}, "transform": [{"filter": "datum.v === 'MWMT'"}, {"aggregate": [{"op": "min", "field": "lo", "as": "lo"}, {"op": "max", "field": "hi", "as": "hi"}], "groupby": ["age"]}],
   "mark": {"type": "area", "orient": "horizontal", "color": "#EBEAE6"},
   "encoding": {"y": {"field": "age", "type": "quantitative", "scale": {"domain": [-1.02, 17.43], "reverse": true, "nice": false, "zero": false}, "axis": null},
    "x": {"field": "lo", "type": "quantitative", "scale": {"domain": [15.0, 31.67], "nice": false, "zero": false}, "axis": null}, "x2": {"field": "hi"}}},
  {"data": {"name": "pb"}, "transform": [{"filter": "datum.v === 'MWMT' && datum.g === 'M'"}],
   "mark": {"type": "point", "filled": true, "size": 34, "opacity": 1},
   "encoding": {"y": {"field": "age", "type": "quantitative", "axis": null}, "x": {"field": "mean", "type": "quantitative", "axis": null},
    "color": {"field": "s", "type": "nominal", "scale": {"domain": ["DJ", "HX", "PJ", "SG"], "range": ["#F5C315", "#7DC243", "#F39BC2", "#8C1D7E"]}, "legend": null}}},
  {"data": {"name": "pb"}, "transform": [{"filter": "datum.v === 'MWMT' && datum.g === 'LP'"}],
   "layer": [
    {"mark": {"type": "rule", "strokeWidth": 3, "opacity": 1},
     "encoding": {"y": {"field": "age", "type": "quantitative", "axis": null}, "x": {"field": "lo", "type": "quantitative", "axis": null}, "x2": {"field": "hi"},
      "color": {"field": "s", "type": "nominal", "scale": {"domain": ["Eryuan", "Yangyi", "Longling"], "range": ["#F28022", "#12A04A", "#1665AF"]}, "legend": null}}},
    {"mark": {"type": "tick", "orient": "vertical", "size": 8, "thickness": 1.5, "opacity": 1},
     "encoding": {"y": {"field": "age", "type": "quantitative", "axis": null}, "x": {"field": "mean", "type": "quantitative", "axis": null}, "color": {"field": "s", "type": "nominal", "legend": null}}}
   ]},
  {"data": {"name": "pb"}, "transform": [{"filter": "datum.v === 'MWMT' && datum.g === 'LM'"}],
   "layer": [
    {"mark": {"type": "rule", "strokeWidth": 3, "opacity": 1},
     "encoding": {"y": {"field": "age", "type": "quantitative", "axis": null}, "x": {"field": "lo", "type": "quantitative", "axis": null}, "x2": {"field": "hi"},
      "color": {"field": "s", "type": "nominal", "scale": {"domain": ["Lühe", "Xiaolongtan"], "range": ["#E1264B", "#68C1D6"]}, "legend": null}}},
    {"mark": {"type": "tick", "orient": "vertical", "size": 8, "thickness": 1.5, "opacity": 1},
     "encoding": {"y": {"field": "age", "type": "quantitative", "axis": null}, "x": {"field": "mean", "type": "quantitative", "axis": null}, "color": {"field": "s", "type": "nominal", "legend": null}}}
   ]},
  {"data": {"name": "pb"}, "transform": [{"filter": "datum.v === 'MWMT' && datum.g === 'MM'"}],
   "layer": [
    {"mark": {"type": "rule", "strokeWidth": 3, "opacity": 1},
     "encoding": {"y": {"field": "age", "type": "quantitative", "axis": null}, "x": {"field": "lo", "type": "quantitative", "axis": null}, "x2": {"field": "hi"},
      "color": {"field": "s", "type": "nominal", "scale": {"domain": ["DJ", "HX", "PJ", "SG"], "range": ["#E6B311", "#79BF41", "#F5A3C7", "#7B3F88"]}, "legend": null}}},
    {"mark": {"type": "tick", "orient": "vertical", "size": 8, "thickness": 1.5, "opacity": 1},
     "encoding": {"y": {"field": "age", "type": "quantitative", "axis": null}, "x": {"field": "mean", "type": "quantitative", "axis": null}, "color": {"field": "s", "type": "nominal", "legend": null}}}
   ]},
  {"data": {"values": [{}]}, "mark": {"type": "rule", "strokeWidth": 3, "color": "black"},
   "encoding": {"x": {"datum": 17.6, "type": "quantitative", "axis": null}, "x2": {"datum": 28.6}, "y": {"datum": 16.15, "type": "quantitative", "axis": null}}},
  {"data": {"name": "ticks"}, "transform": [{"filter": "datum.p === 'b' && datum.v === 'MWMT' && datum.m === 0"}],
   "mark": {"type": "tick", "orient": "vertical", "size": 3, "thickness": 2, "yOffset": -1.5, "color": "black"},
   "encoding": {"x": {"field": "t", "type": "quantitative", "axis": null}, "y": {"datum": 16.15, "type": "quantitative", "axis": null}}},
  {"data": {"name": "ticks"}, "transform": [{"filter": "datum.p === 'b' && datum.v === 'MWMT' && datum.m === 1"}],
   "mark": {"type": "tick", "orient": "vertical", "size": 6, "thickness": 2, "yOffset": -3, "color": "black"},
   "encoding": {"x": {"field": "t", "type": "quantitative", "axis": null}, "y": {"datum": 16.15, "type": "quantitative", "axis": null}}},
  {"data": {"name": "ticks"}, "transform": [{"filter": "datum.p === 'b' && datum.v === 'MWMT' && datum.m === 1"}],
   "mark": {"type": "text", "fontSize": 14, "baseline": "alphabetic", "align": "center", "dy": -6, "color": "black"},
   "encoding": {"x": {"field": "t", "type": "quantitative", "axis": null}, "y": {"datum": 16.15, "type": "quantitative", "axis": null}, "text": {"field": "t", "type": "quantitative"}}},
  {"data": {"values": [{}]}, "mark": {"type": "text", "text": "MWMT (℃)", "fontSize": 17, "baseline": "middle", "align": "center", "dy": 12.5, "color": "black"},
   "encoding": {"x": {"datum": 23.1, "type": "quantitative", "axis": null}, "y": {"datum": 16.15, "type": "quantitative", "axis": null}}},
  {"data": {"values": [{}]}, "mark": {"type": "rule", "strokeWidth": 2.5, "color": "black"}, "encoding": {"y": {"datum": 17.43, "type": "quantitative", "axis": null}}}
]},
{"width": 178, "height": 332,
 "resolve": {"scale": {"color": "independent"}},
 "layer": [
  {"data": {"name": "pb"}, "transform": [{"filter": "datum.v === 'MCMT'"}, {"aggregate": [{"op": "min", "field": "lo", "as": "lo"}, {"op": "max", "field": "hi", "as": "hi"}], "groupby": ["age"]}],
   "mark": {"type": "area", "orient": "horizontal", "color": "#EBEAE6"},
   "encoding": {"y": {"field": "age", "type": "quantitative", "scale": {"domain": [-1.02, 17.43], "reverse": true, "nice": false, "zero": false}, "axis": null},
    "x": {"field": "lo", "type": "quantitative", "scale": {"domain": [-4.72, 16.29], "nice": false, "zero": false}, "axis": null}, "x2": {"field": "hi"}}},
  {"data": {"name": "pb"}, "transform": [{"filter": "datum.v === 'MCMT' && datum.g === 'M'"}],
   "mark": {"type": "point", "filled": true, "size": 34, "opacity": 1},
   "encoding": {"y": {"field": "age", "type": "quantitative", "axis": null}, "x": {"field": "mean", "type": "quantitative", "axis": null},
    "color": {"field": "s", "type": "nominal", "scale": {"domain": ["DJ", "HX", "PJ", "SG"], "range": ["#F5C315", "#7DC243", "#F39BC2", "#8C1D7E"]}, "legend": null}}},
  {"data": {"name": "pb"}, "transform": [{"filter": "datum.v === 'MCMT' && datum.g === 'LP'"}],
   "layer": [
    {"mark": {"type": "rule", "strokeWidth": 3, "opacity": 1},
     "encoding": {"y": {"field": "age", "type": "quantitative", "axis": null}, "x": {"field": "lo", "type": "quantitative", "axis": null}, "x2": {"field": "hi"},
      "color": {"field": "s", "type": "nominal", "scale": {"domain": ["Eryuan", "Yangyi", "Longling"], "range": ["#F28022", "#12A04A", "#1665AF"]}, "legend": null}}},
    {"mark": {"type": "tick", "orient": "vertical", "size": 8, "thickness": 1.5, "opacity": 1},
     "encoding": {"y": {"field": "age", "type": "quantitative", "axis": null}, "x": {"field": "mean", "type": "quantitative", "axis": null}, "color": {"field": "s", "type": "nominal", "legend": null}}}
   ]},
  {"data": {"name": "pb"}, "transform": [{"filter": "datum.v === 'MCMT' && datum.g === 'LM'"}],
   "layer": [
    {"mark": {"type": "rule", "strokeWidth": 3, "opacity": 1},
     "encoding": {"y": {"field": "age", "type": "quantitative", "axis": null}, "x": {"field": "lo", "type": "quantitative", "axis": null}, "x2": {"field": "hi"},
      "color": {"field": "s", "type": "nominal", "scale": {"domain": ["Lühe", "Xiaolongtan"], "range": ["#E1264B", "#68C1D6"]}, "legend": null}}},
    {"mark": {"type": "tick", "orient": "vertical", "size": 8, "thickness": 1.5, "opacity": 1},
     "encoding": {"y": {"field": "age", "type": "quantitative", "axis": null}, "x": {"field": "mean", "type": "quantitative", "axis": null}, "color": {"field": "s", "type": "nominal", "legend": null}}}
   ]},
  {"data": {"name": "pb"}, "transform": [{"filter": "datum.v === 'MCMT' && datum.g === 'MM'"}],
   "layer": [
    {"mark": {"type": "rule", "strokeWidth": 3, "opacity": 1},
     "encoding": {"y": {"field": "age", "type": "quantitative", "axis": null}, "x": {"field": "lo", "type": "quantitative", "axis": null}, "x2": {"field": "hi"},
      "color": {"field": "s", "type": "nominal", "scale": {"domain": ["DJ", "HX", "PJ", "SG"], "range": ["#E6B311", "#79BF41", "#F5A3C7", "#7B3F88"]}, "legend": null}}},
    {"mark": {"type": "tick", "orient": "vertical", "size": 8, "thickness": 1.5, "opacity": 1},
     "encoding": {"y": {"field": "age", "type": "quantitative", "axis": null}, "x": {"field": "mean", "type": "quantitative", "axis": null}, "color": {"field": "s", "type": "nominal", "legend": null}}}
   ]},
  {"data": {"values": [{}]}, "mark": {"type": "rule", "strokeWidth": 3, "color": "black"},
   "encoding": {"x": {"datum": -1.0, "type": "quantitative", "axis": null}, "x2": {"datum": 15.3}, "y": {"datum": 16.15, "type": "quantitative", "axis": null}}},
  {"data": {"name": "ticks"}, "transform": [{"filter": "datum.p === 'b' && datum.v === 'MCMT' && datum.m === 0"}],
   "mark": {"type": "tick", "orient": "vertical", "size": 3, "thickness": 2, "yOffset": -1.5, "color": "black"},
   "encoding": {"x": {"field": "t", "type": "quantitative", "axis": null}, "y": {"datum": 16.15, "type": "quantitative", "axis": null}}},
  {"data": {"name": "ticks"}, "transform": [{"filter": "datum.p === 'b' && datum.v === 'MCMT' && datum.m === 1"}],
   "mark": {"type": "tick", "orient": "vertical", "size": 6, "thickness": 2, "yOffset": -3, "color": "black"},
   "encoding": {"x": {"field": "t", "type": "quantitative", "axis": null}, "y": {"datum": 16.15, "type": "quantitative", "axis": null}}},
  {"data": {"name": "ticks"}, "transform": [{"filter": "datum.p === 'b' && datum.v === 'MCMT' && datum.m === 1"}],
   "mark": {"type": "text", "fontSize": 14, "baseline": "alphabetic", "align": "center", "dy": -6, "color": "black"},
   "encoding": {"x": {"field": "t", "type": "quantitative", "axis": null}, "y": {"datum": 16.15, "type": "quantitative", "axis": null}, "text": {"field": "t", "type": "quantitative"}}},
  {"data": {"values": [{}]}, "mark": {"type": "text", "text": "MCMT (℃)", "fontSize": 17, "baseline": "middle", "align": "center", "dy": 12.5, "color": "black"},
   "encoding": {"x": {"datum": 6.7, "type": "quantitative", "axis": null}, "y": {"datum": 16.15, "type": "quantitative", "axis": null}}},
  {"data": {"values": [{}]}, "mark": {"type": "rule", "strokeWidth": 2.5, "color": "black"}, "encoding": {"y": {"datum": 17.43, "type": "quantitative", "axis": null}}}
]}
],
"config": {
 "view": {"stroke": null},
 "font": "Liberation Sans",
 "text": {"font": "Liberation Sans"},
 "tick": {"opacity": 1},
 "legend": {"titleFont": "Liberation Sans", "labelFont": "Liberation Sans", "titleFontSize": 16.5, "labelFontSize": 16.5, "titleFontWeight": "normal",
  "titleColor": "#111111", "labelColor": "#111111", "titleLimit": 600, "labelLimit": 300, "padding": 0, "titleBaseline": "middle"}
}
}
